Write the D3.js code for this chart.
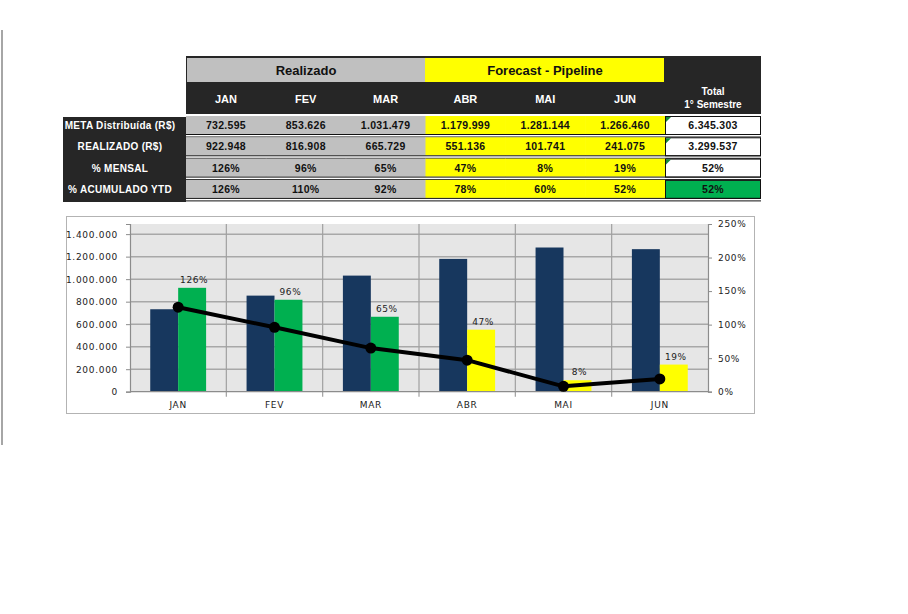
<!DOCTYPE html>
<html>
<head>
<meta charset="utf-8">
<script src="https://cdn.jsdelivr.net/npm/d3@7"></script>
<style>
  body { margin: 0; background: #fff; }
  svg { display: block; font-family: "Liberation Sans", Arial, sans-serif; }
</style>
</head>
<body>
<script>
const width = 908;
const height = 614;

// data
const months = ['JAN', 'FEV', 'MAR', 'ABR', 'MAI', 'JUN'];
const phase = ['real', 'real', 'real', 'fcst', 'fcst', 'fcst'];
const meta = [732595, 853626, 1031479, 1179999, 1281144, 1266460];
const realizado = [922948, 816908, 665729, 551136, 101741, 241075];
const mensal = [1.26, 0.96, 0.65, 0.47, 0.08, 0.19];
const acumulado = [1.26, 1.10, 0.92, 0.78, 0.60, 0.52];
const totals = ['6.345.303', '3.299.537', '52%', '52%'];
const rowLabels = ['META Distribuída (R$)', 'REALIZADO (R$)', '% MENSAL', '% ACUMULADO YTD'];
const leftTicks = [0, 200000, 400000, 600000, 800000, 1000000, 1200000, 1400000];
const rightTicks = [0, 0.5, 1, 1.5, 2, 2.5];

const dark = '#262626';
const grey = '#c0c0c0';
const yellow = '#ffff00';
const green = '#00b050';
const navy = '#17375e';

const fmt = d3.formatLocale({ decimal: ',', thousands: '.', grouping: [3], currency: ['R$', ''] });
const num = fmt.format(',d');
const pct = (v) => Math.round(v * 100) + '%';

const svg = d3.select('body')
  .append('svg')
    .attr('width', width)
    .attr('height', height)
    .attr('viewBox', [0, 0, width, height].join(' '));

// left sheet edge
svg.append('line')
  .attr('x1', 2).attr('x2', 2).attr('y1', 30).attr('y2', 445)
  .attr('stroke', '#a6a6a6').attr('stroke-width', 2);

// ---------- table ----------
const table = svg.append('g');

const col = d3.scaleBand().domain(months).range([186, 665]);
const totalX = 665, totalW = 96;
const rowTop = (i) => 116 + i * 21.3;
const cellH = 18;

table.append('rect')
  .attr('x', 186).attr('y', 56).attr('width', 575).attr('height', 58)
  .attr('fill', dark);

table.append('rect')
  .attr('x', 187).attr('y', 58).attr('width', 238).attr('height', 24)
  .attr('fill', grey);
table.append('rect')
  .attr('x', 425).attr('y', 58).attr('width', 239).attr('height', 24)
  .attr('fill', yellow);

table.append('text')
  .attr('x', 306).attr('y', 75).attr('text-anchor', 'middle')
  .attr('font-size', 13).attr('font-weight', 'bold').attr('fill', '#111')
  .text('Realizado');
table.append('text')
  .attr('x', 545).attr('y', 75).attr('text-anchor', 'middle')
  .attr('font-size', 13).attr('font-weight', 'bold').attr('fill', '#111')
  .text('Forecast - Pipeline');

table.selectAll('.mh')
  .data(months)
  .enter()
    .append('text')
    .attr('class', 'mh')
    .attr('x', (d) => col(d) + col.bandwidth() / 2)
    .attr('y', 103)
    .attr('text-anchor', 'middle')
    .attr('font-size', 11).attr('font-weight', 'bold').attr('fill', '#fff')
    .text((d) => d);

table.append('text')
  .attr('x', totalX + totalW / 2).attr('y', 95).attr('text-anchor', 'middle')
  .attr('font-size', 10).attr('font-weight', 'bold').attr('fill', '#fff')
  .text('Total');
table.append('text')
  .attr('x', totalX + totalW / 2).attr('y', 108).attr('text-anchor', 'middle')
  .attr('font-size', 10).attr('font-weight', 'bold').attr('fill', '#fff')
  .text('1° Semestre');

// row label block
table.append('rect')
  .attr('x', 63).attr('y', 117).attr('width', 123).attr('height', 85)
  .attr('fill', dark);

table.selectAll('.rl')
  .data(rowLabels)
  .enter()
    .append('text')
    .attr('class', 'rl')
    .attr('x', 120)
    .attr('y', (d, i) => rowTop(i) + 13)
    .attr('text-anchor', 'middle')
    .attr('font-size', 10).attr('letter-spacing', 0.3)
    .attr('font-weight', 'bold').attr('fill', '#fff')
    .text((d) => d);

const rows = [
  meta.map(num),
  realizado.map(num),
  mensal.map(pct),
  acumulado.map(pct),
];

rows.forEach((vals, r) => {
  const g = table.append('g');

  g.selectAll('rect')
    .data(vals)
    .enter()
      .append('rect')
      .attr('x', (d, i) => col(months[i]))
      .attr('y', rowTop(r))
      .attr('width', col.bandwidth() + 0.6)
      .attr('height', cellH)
      .attr('fill', (d, i) => phase[i] === 'real' ? grey : yellow);

  g.selectAll('text')
    .data(vals)
    .enter()
      .append('text')
      .attr('x', (d, i) => col(months[i]) + col.bandwidth() / 2)
      .attr('y', rowTop(r) + 13)
      .attr('text-anchor', 'middle')
      .attr('font-size', 10.5).attr('letter-spacing', 0.3)
      .attr('font-weight', 'bold').attr('fill', '#111')
      .text((d) => d);

  g.append('rect')
    .attr('x', totalX + 0.5).attr('y', rowTop(r) + 0.5)
    .attr('width', totalW - 1).attr('height', cellH)
    .attr('fill', r === 3 ? green : '#fff')
    .attr('stroke', '#111');

  if (r < 3) {
    g.append('path')
      .attr('d', `M${totalX + 1},${rowTop(r) + 1}h5l-5,5z`)
      .attr('fill', '#138a3a');
  }

  g.append('text')
    .attr('x', totalX + totalW / 2)
    .attr('y', rowTop(r) + 13)
    .attr('text-anchor', 'middle')
    .attr('font-size', 10.5).attr('letter-spacing', 0.3)
    .attr('font-weight', 'bold').attr('fill', '#111')
    .text(totals[r]);

  // double rule under each row
  [cellH + 0.5, cellH + 3].forEach((dy) => {
    g.append('line')
      .attr('x1', 186).attr('x2', 761)
      .attr('y1', rowTop(r) + dy).attr('y2', rowTop(r) + dy)
      .attr('stroke', '#111').attr('stroke-width', 1);
  });
});

// ---------- chart ----------
const chart = svg.append('g');

chart.append('rect')
  .attr('x', 66.5).attr('y', 216.5).attr('width', 688).attr('height', 197)
  .attr('fill', '#fff').attr('stroke', '#b3b3b3');

const plot = { left: 130, right: 708, top: 224, bottom: 391.7 };

const x = d3.scaleBand()
  .domain(months)
  .range([plot.left, plot.right]);

const yL = d3.scaleLinear()
  .domain([0, 1490000])
  .range([plot.bottom, plot.top]);

const yR = d3.scaleLinear()
  .domain([0, 2.5])
  .range([plot.bottom, plot.top]);

chart.append('rect')
  .attr('x', plot.left).attr('y', plot.top)
  .attr('width', plot.right - plot.left).attr('height', plot.bottom - plot.top)
  .attr('fill', '#e6e6e6');

// horizontal gridlines
chart.selectAll('.hg')
  .data(leftTicks.filter((d) => d > 0))
  .enter()
    .append('line')
    .attr('class', 'hg')
    .attr('x1', plot.left).attr('x2', plot.right)
    .attr('y1', (d) => yL(d)).attr('y2', (d) => yL(d))
    .attr('stroke', '#a8a8a8').attr('stroke-width', 1.5);

// vertical gridlines at category edges
chart.selectAll('.vg')
  .data(months.slice(1))
  .enter()
    .append('line')
    .attr('class', 'vg')
    .attr('x1', (d) => x(d)).attr('x2', (d) => x(d))
    .attr('y1', plot.top).attr('y2', plot.bottom + 5)
    .attr('stroke', '#a0a0a0').attr('stroke-width', 1.2);

const barW = x.bandwidth() * 0.29;
const mid = (d) => x(d) + x.bandwidth() / 2;

chart.selectAll('.meta')
  .data(meta)
  .enter()
    .append('rect')
    .attr('class', 'meta')
    .attr('fill', navy)
    .attr('x', (d, i) => mid(months[i]) - barW)
    .attr('y', (d) => yL(d))
    .attr('width', barW)
    .attr('height', (d) => plot.bottom - yL(d));

chart.selectAll('.real')
  .data(realizado)
  .enter()
    .append('rect')
    .attr('class', 'real')
    .attr('fill', (d, i) => phase[i] === 'real' ? green : yellow)
    .attr('x', (d, i) => mid(months[i]))
    .attr('y', (d) => yL(d))
    .attr('width', barW)
    .attr('height', (d) => plot.bottom - yL(d));

chart.selectAll('.lbl')
  .data(realizado)
  .enter()
    .append('text')
    .attr('class', 'lbl')
    .attr('x', (d, i) => mid(months[i]) + barW / 2 + 2)
    .attr('y', (d) => yL(d) - 5)
    .attr('text-anchor', 'middle')
    .attr('font-family', 'DejaVu Sans')
    .attr('font-size', 9).attr('letter-spacing', 0.6).attr('fill', '#222')
    .text((d, i) => pct(mensal[i]));

// axes
const axisL = d3.axisLeft(yL)
  .tickValues(leftTicks)
  .tickSize(4)
  .tickPadding(8)
  .tickFormat((d) => num(d));

const axisR = d3.axisRight(yR)
  .tickValues(rightTicks)
  .tickSize(4)
  .tickPadding(6)
  .tickFormat(pct);

const axisB = d3.axisBottom(x)
  .tickSize(0)
  .tickPadding(10);

const gl = chart.append('g')
  .attr('transform', `translate(${plot.left}, 0)`)
  .call(axisL);
const gr = chart.append('g')
  .attr('transform', `translate(${plot.right}, 0)`)
  .call(axisR);
const gb = chart.append('g')
  .attr('transform', `translate(0, ${plot.bottom})`)
  .call(axisB);

[gl, gr, gb].forEach((g) => {
  g.selectAll('path.domain').attr('stroke', '#8c8c8c').attr('stroke-width', 1.2);
  g.selectAll('.tick line').attr('stroke', '#8c8c8c');
  g.selectAll('.tick text')
    .attr('font-family', 'DejaVu Sans')
    .attr('font-size', 9)
    .attr('letter-spacing', 0.7)
    .attr('fill', '#222');
});
gb.selectAll('path.domain').attr('d', `M${plot.left},0H${plot.right}`);

// line of % mensal
const line = d3.line()
  .x((d, i) => mid(months[i]))
  .y((d) => yR(d));

chart.append('path')
  .datum(mensal)
  .attr('fill', 'none')
  .attr('stroke', '#000')
  .attr('stroke-width', 4)
  .attr('stroke-linejoin', 'round')
  .attr('d', line);

chart.selectAll('.pt')
  .data(mensal)
  .enter()
    .append('circle')
    .attr('class', 'pt')
    .attr('cx', (d, i) => mid(months[i]))
    .attr('cy', (d) => yR(d))
    .attr('r', 5.5)
    .attr('fill', '#000');
</script>
</body>
</html>
